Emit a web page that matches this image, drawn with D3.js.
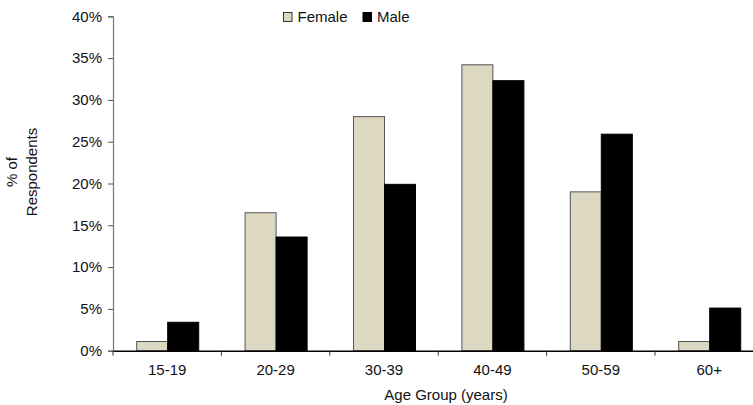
<!DOCTYPE html>
<html><head><meta charset="utf-8">
<script src="https://cdn.jsdelivr.net/npm/d3@7"></script>
<style>body{margin:0;background:#fff}svg{display:block}text{font-family:"Liberation Sans",Arial,sans-serif;fill:#111}</style>
</head><body><svg id="c" width="753" height="405"></svg>
<script>
const categories = ["15-19","20-29","30-39","40-49","50-59","60+"];
const seriesNames = ["Female","Male"];
const female = [1.1, 16.5, 28.0, 34.2, 19.0, 1.1];
const male = [3.4, 13.6, 19.9, 32.3, 25.9, 5.1];
const yTicks = [0,5,10,15,20,25,30,35,40];

const svg = d3.select("#c");
const mLeft = 113, mRight = 763.4, mTop = 16.3, mBottom = 350.7;
const x = d3.scaleBand().domain(categories).range([mLeft, mRight]).paddingInner(0).paddingOuter(0);
const x1 = d3.scaleBand().domain(seriesNames).range([0, x.bandwidth()]).paddingInner(0).paddingOuter(0.748);
const y = d3.scaleLinear().domain([0,40]).range([mBottom, mTop]);
const colors = {Female:"#ddd8c2", Male:"#000"};
const strokes = {Female:"#555", Male:"#000"};

const data = categories.map((c,i)=>({c, vals:[{s:"Female",v:female[i]},{s:"Male",v:male[i]}]}));
const g = svg.append("g");
g.selectAll("g.grp").data(data).join("g").attr("class","grp").attr("transform",d=>`translate(${x(d.c)},0)`)
 .selectAll("rect").data(d=>d.vals).join("rect")
 .attr("x",d=>x1(d.s)+0.5).attr("width",x1.bandwidth())
 .attr("y",d=>y(d.v)).attr("height",d=>y(0)-y(d.v))
 .attr("fill",d=>colors[d.s]).attr("stroke",d=>strokes[d.s]).attr("stroke-width",1);

// y axis
const ya = svg.append("g").attr("transform",`translate(${mLeft},0)`)
 .call(d3.axisLeft(y).tickValues(yTicks).tickFormat(d=>d+"%").tickSize(5).tickPadding(6));
ya.select(".domain").attr("stroke","#777").attr("stroke-width",1.2);
ya.selectAll(".tick line").attr("stroke","#555");
ya.selectAll("text").attr("font-size",15).attr("font-family","Liberation Sans, Arial, sans-serif").attr("fill","#111");

// x axis
const xa = svg.append("g").attr("transform",`translate(0,${mBottom})`)
 .call(d3.axisBottom(x).tickSize(0).tickPadding(14));
xa.select(".domain").attr("stroke","#000").attr("stroke-width",1.5);
xa.selectAll("text").attr("font-size",15).attr("font-family","Liberation Sans, Arial, sans-serif").attr("fill","#111");
// category boundary ticks
const bounds = categories.slice(1).map(c=>x(c));
svg.append("g").selectAll("line").data([mLeft].concat(bounds)).join("line")
 .attr("x1",d=>d).attr("x2",d=>d).attr("y1",mBottom).attr("y2",mBottom+5)
 .attr("stroke","#333").attr("stroke-width",1);

svg.append("text").attr("x",446).attr("y",400).attr("text-anchor","middle").attr("font-size",15).text("Age Group (years)");

const yl = svg.append("text").attr("transform","translate(17,172) rotate(-90)").attr("text-anchor","middle").attr("font-size",15);
yl.append("tspan").attr("x",0).attr("dy","0").text("% of");
yl.append("tspan").attr("x",0).attr("dy","1.3em").text("Respondents");

// legend
const leg = svg.append("g");
const legX = [283.5, 363];
seriesNames.forEach((s,i)=>{
  leg.append("rect").attr("x",legX[i]).attr("y",12.5).attr("width",8.5).attr("height",9)
   .attr("fill",colors[s]).attr("stroke",i===0?"#333":"#000").attr("stroke-width",1);
  leg.append("text").attr("x",legX[i]+14).attr("y",22).attr("font-size",15).text(s);
});
</script></body></html>
